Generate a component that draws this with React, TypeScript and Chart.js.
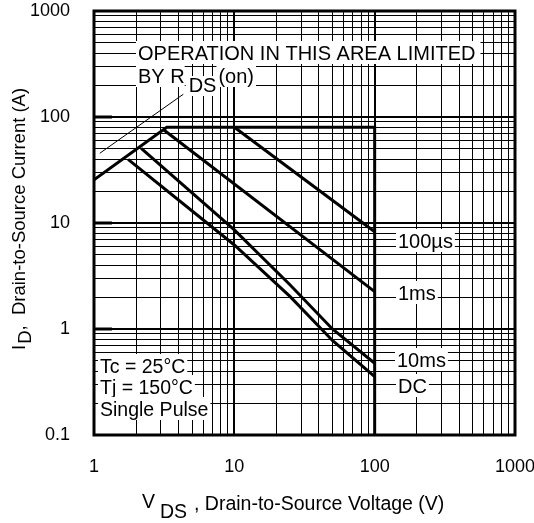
import React, { useEffect, useRef } from "react";
import { Chart, registerables } from "chart.js";
Chart.register(...registerables);

const FONT = "'Liberation Sans', Arial, Helvetica, sans-serif";

const xTickLabels = ["1", "10", "100", "1000"];
const yTickLabels = ["0.1", "1", "10", "100", "1000"];

// Safe-operating-area boundary: RDS(on) limit, 80 A limit, 100 V limit
const limitV = [1, 3.3, 100, 100];
const limitI = [25.5, 80, 80, 0.1];
const us100V = [10, 100];
const us100I = [80, 8.28];
const ms1V = [3.1, 100];
const ms1I = [76.6, 2.25];
const ms10V = [2.17, 10, 25, 50, 100];
const ms10I = [50.7, 8.6, 2.6, 1.0, 0.475];
const dcV = [1.75, 10, 25, 50, 100];
const dcI = [39.9, 6.2, 2.02, 0.78, 0.355];
const pointerV = [1.1, 4.33];
const pointerI = [45.5, 164];

const curveLabels = ["100\u00B5s", "1ms", "10ms", "DC"];
const conditionLines = ["Tc = 25\u00B0C", "Tj = 150\u00B0C", "Single Pulse"];
const areaNote = "OPERATION IN THIS AREA LIMITED";

const pts = (xs: number[], ys: number[]) => xs.map((x, i) => ({ x, y: ys[i] }));

const isPow10 = (v: number) => Math.abs(Math.log10(v) - Math.round(Math.log10(v))) < 1e-9;

const logTicks = (min: number, max: number) => {
  const t: { value: number }[] = [];
  const e0 = Math.round(Math.log10(min));
  const e1 = Math.round(Math.log10(max));
  for (let e = e0; e < e1; e++) {
    for (let m = 1; m < 10; m++) t.push({ value: parseFloat((m * Math.pow(10, e)).toPrecision(6)) });
  }
  t.push({ value: max });
  return t;
};

const labelFor = (arr: string[]) => (v: any) => {
  const n = Number(v);
  if (!isPow10(n)) return "";
  const f = arr.find((s) => Math.abs(Number(s) - n) < 1e-9 * Math.max(1, n));
  return f ?? "";
};

const annotPlugin = {
  id: "annot",
  afterDatasetsDraw(chart: any) {
    const { ctx, chartArea: a, scales } = chart;
    const ys = scales.y;
    ctx.save();
    const txt = (text: string, x: number, y: number, size = 20, bg = true, padR = 2) => {
      ctx.font = `${size}px ${FONT}`;
      const w = ctx.measureText(text).width;
      if (bg) {
        ctx.fillStyle = "#fff";
        ctx.fillRect(x - 2, y - 19, w + 2 + padR, 23);
      }
      ctx.fillStyle = "#000";
      ctx.textBaseline = "alphabetic";
      ctx.textAlign = "left";
      ctx.fillText(text, x, y);
      return w;
    };

    // area note
    txt(areaNote, 138, 60, 20, true, 5);
    // BY R DS (on)
    const w1 = txt("BY R", 138, 83, 20, true, 0);
    ctx.font = `20px ${FONT}`;
    const wDS = ctx.measureText("DS").width;
    ctx.fillStyle = "#fff";
    ctx.fillRect(138 + w1 + 1, 76, wDS + 6, 20);
    ctx.fillStyle = "#000";
    ctx.fillText("DS", 138 + w1 + 4, 92);
    txt("(on)", 138 + w1 + 4 + wDS + 2, 83, 20, true, 2);

    // curve labels
    txt(curveLabels[0], 398, 248);
    txt(curveLabels[1], 398, 300);
    txt(curveLabels[2], 397, 367);
    txt(curveLabels[3], 398, 393);

    // conditions
    txt(conditionLines[0], 100, 373, 19.5);
    txt(conditionLines[1], 100, 394, 19.5);
    txt(conditionLines[2], 100, 416, 19.5);

    // major tick stubs at left
    ctx.strokeStyle = "#000";
    ctx.lineWidth = 3;
    [1, 10, 100].forEach((v) => {
      const py = Math.round(ys.getPixelForValue(v));
      ctx.beginPath();
      ctx.moveTo(a.left, py);
      ctx.lineTo(a.left + 18, py);
      ctx.stroke();
    });

    // frame
    ctx.lineWidth = 3;
    ctx.strokeRect(a.left, a.top, a.right - a.left, a.bottom - a.top);

    // x title
    ctx.fillStyle = "#000";
    ctx.font = `19.5px ${FONT}`;
    ctx.fillText("V", 142, 508);
    ctx.fillText("DS", 160, 518);
    ctx.fillText(", Drain-to-Source Voltage (V)", 194, 510);

    // y title (rotated)
    ctx.save();
    ctx.translate(25, 350);
    ctx.rotate(-Math.PI / 2);
    ctx.font = `18.5px ${FONT}`;
    let cx = 0;
    ctx.fillText("I", cx, 0);
    cx += ctx.measureText("I").width + 1;
    ctx.fillText("D", cx, 6);
    cx += ctx.measureText("D").width;
    ctx.fillText(",  Drain-to-Source Current (A)", cx, 0);
    ctx.restore();

    ctx.restore();
  },
};

export default function App() {
  const ref = useRef<HTMLCanvasElement | null>(null);
  useEffect(() => {
    if (!ref.current) return;
    const thick = { borderColor: "#000", borderWidth: 3, pointRadius: 0, showLine: true, tension: 0, borderJoinStyle: "miter" as const, fill: false };
    const gridWidth = (c: any) => (c.tick && isPow10(c.tick.value) ? 2 : 1);
    const chart = new Chart(ref.current, {
      type: "scatter",
      data: {
        datasets: [
          { ...thick, data: pts(limitV, limitI) },
          { ...thick, data: pts(us100V, us100I) },
          { ...thick, data: pts(ms1V, ms1I) },
          { ...thick, data: pts(ms10V, ms10I) },
          { ...thick, data: pts(dcV, dcI) },
          { ...thick, borderWidth: 1, data: pts(pointerV, pointerI) },
        ],
      },
      options: {
        responsive: false,
        animation: false,
        events: [],
        layout: { padding: { left: 0, top: 11, right: 19, bottom: 0 } },
        plugins: { legend: { display: false }, tooltip: { enabled: false } },
        scales: {
          x: {
            type: "logarithmic",
            min: 1,
            max: 1000,
            afterBuildTicks: (s: any) => { s.ticks = logTicks(1, 1000); },
            afterFit: (s: any) => { s.height = 88; s.paddingLeft = 0; s.paddingRight = 0; },
            grid: { color: "#000", lineWidth: gridWidth, drawTicks: false },
            border: { display: false },
            ticks: {
              autoSkip: false,
              maxRotation: 0,
              minRotation: 0,
              padding: 21,
              color: "#000",
              font: { size: 18, family: FONT },
              callback: labelFor(xTickLabels),
            },
          },
          y: {
            type: "logarithmic",
            min: 0.1,
            max: 1000,
            afterBuildTicks: (s: any) => { s.ticks = logTicks(0.1, 1000); },
            afterFit: (s: any) => { s.width = 94; s.paddingTop = 0; s.paddingBottom = 0; },
            grid: { color: "#000", lineWidth: gridWidth, drawTicks: false },
            border: { display: false },
            ticks: {
              autoSkip: false,
              padding: 24,
              color: "#000",
              font: { size: 18, family: FONT },
              callback: labelFor(yTickLabels),
            },
          },
        },
      },
      plugins: [annotPlugin],
    });
    return () => chart.destroy();
  }, []);
  return (
    <canvas
      ref={ref}
      width={534}
      height={523}
      style={{ position: "absolute", left: 0, top: 0, width: 534, height: 523 }}
    />
  );
}
